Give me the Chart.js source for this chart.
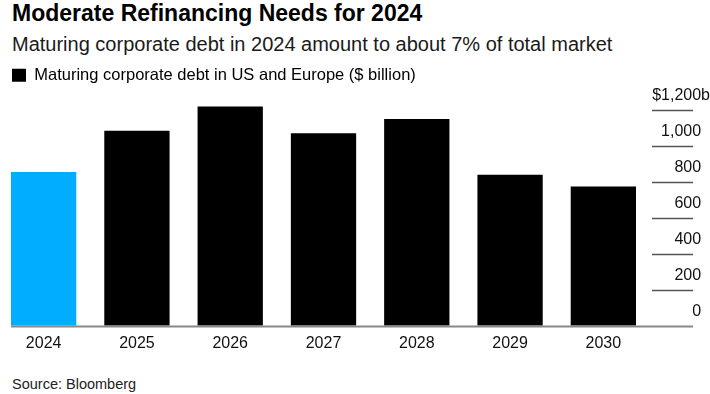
<!DOCTYPE html>
<html>
<head>
<meta charset="utf-8">
<script src="https://cdn.jsdelivr.net/npm/chart.js@4"></script>
<style>
  html, body { margin: 0; padding: 0; background: #fff; }
  body { width: 710px; height: 394px; position: relative; overflow: hidden; font-family: "Liberation Sans", Arial, sans-serif; }
  #title { position: absolute; left: 12px; top: 2px; font-size: 23px; line-height: 23px; font-weight: bold; color: #000; white-space: nowrap; }
  #subtitle { position: absolute; left: 12px; top: 34px; font-size: 20px; line-height: 20px; color: #1a1a1a; white-space: nowrap; }
  #source { position: absolute; left: 12px; top: 377px; font-size: 14.5px; line-height: 14px; color: #222; white-space: nowrap; }
  #wrap { position: absolute; left: -3px; top: 52px; width: 713px; height: 316px; }
</style>
</head>
<body>
<div id="title">Moderate Refinancing Needs for 2024</div>
<div id="subtitle">Maturing corporate debt in 2024 amount to about 7% of total market</div>
<div id="wrap"><canvas id="chart"></canvas></div>
<div id="source">Source: Bloomberg</div>
<script>
const years = ["2024", "2025", "2026", "2027", "2028", "2029", "2030"];
const debt = [855, 1085, 1220, 1070, 1150, 840, 775];
const yTicks = [0, 200, 400, 600, 800, 1000, 1200];
const seriesName = "Maturing corporate debt in US and Europe ($ billion)";

const FONT = "'Liberation Sans', Arial, sans-serif";

// fixed legend height so the plot starts where it should
const legendHeight = {
  id: "legendHeight",
  beforeInit(chart) {
    const fit = chart.legend.fit;
    chart.legend.fit = function () {
      fit.call(this);
      this.height = 49;
    };
  }
};

// short rules next to the tick labels, plus the baseline under the bars
const rules = {
  id: "rules",
  afterDatasetsDraw(chart) {
    const { ctx } = chart;
    const y = chart.scales.y;
    const first = chart.getDatasetMeta(0).data[0];
    const x1 = y.left + 43;
    ctx.save();
    yTicks.forEach(v => {
      const py = Math.round(y.getPixelForValue(v)) + 0.5;
      ctx.beginPath();
      if (v === 0) {
        ctx.strokeStyle = "#888";
        ctx.lineWidth = 2;
        ctx.moveTo(first.x - first.width / 2, py);
      } else {
        ctx.strokeStyle = "#555";
        ctx.lineWidth = 1.5;
        ctx.moveTo(y.left + 2, py);
      }
      ctx.lineTo(x1, py);
      ctx.stroke();
    });
    ctx.restore();
  }
};

new Chart(document.getElementById("chart"), {
  type: "bar",
  data: {
    labels: years,
    datasets: [{
      label: seriesName,
      data: debt,
      backgroundColor: years.map((y, i) => i === 0 ? "#00adff" : "#000"),
      barPercentage: 0.7,
      categoryPercentage: 1
    }]
  },
  options: {
    responsive: true,
    maintainAspectRatio: false,
    animation: false,
    layout: { padding: { top: 0, bottom: 7, left: 0, right: 0 } },
    plugins: {
      legend: {
        display: true,
        position: "top",
        align: "start",
        labels: {
          font: { family: FONT, size: 16.5 },
          color: "#111",
          boxWidth: 14,
          boxHeight: 13,
          padding: 15,
          generateLabels: () => [{ text: seriesName, fillStyle: "#000", strokeStyle: "#000", lineWidth: 0 }]
        }
      },
      tooltip: { enabled: false }
    },
    scales: {
      x: {
        grid: { display: false, drawTicks: false },
        border: { display: false },
        ticks: { font: { family: FONT, size: 16 }, color: "#111", padding: 8, maxRotation: 0 }
      },
      y: {
        position: "right",
        min: 0,
        max: 1250,
        afterBuildTicks: s => { s.ticks = yTicks.map(v => ({ value: v })); },
        afterFit: s => { s.width = 60; },
        grid: { display: false, drawTicks: false },
        border: { display: false },
        ticks: {
          font: { family: FONT, size: 16 },
          color: "#111",
          crossAlign: "far",
          padding: -6,
          labelOffset: -14,
          callback: v => v === 1200 ? "$1,200b" : v.toLocaleString("en-US") + "  "
        }
      }
    }
  },
  plugins: [legendHeight, rules]
});
</script>
</body>
</html>
